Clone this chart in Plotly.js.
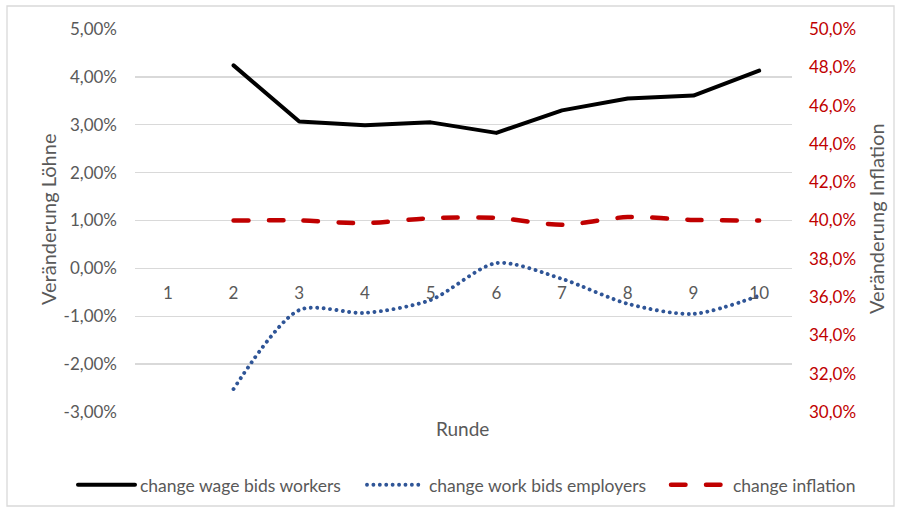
<!DOCTYPE html>
<html>
<head>
<meta charset="utf-8">
<script src="https://cdn.plot.ly/plotly-3.0.1.min.js"></script>
<style>
html,body{margin:0;padding:0;background:#fff;}
#chart{width:900px;height:512px;}
#chart .scatterlayer .js-line, #chart .legendlines path {stroke-linecap: round; stroke-linejoin: round;}
</style>
</head>
<body>
<div id="chart"></div>
<script>
const rounds = ['1','2','3','4','5','6','7','8','9','10'];
const wageBidsWorkers = [null, 4.24, 3.07, 2.99, 3.05, 2.83, 3.30, 3.55, 3.61, 4.13];
const workBidsEmployers = [null, -2.52, -0.87, -0.93, -0.66, 0.11, -0.22, -0.74, -0.95, -0.57];
const inflation = [null, 40.0, 40.0, 39.86, 40.12, 40.14, 39.78, 40.18, 40.03, 40.0];
const leftTicks = [-3, -2, -1, 0, 1, 2, 3, 4, 5];
const leftTickText = ['-3,00%', '-2,00%', '-1,00%', '0,00%', '1,00%', '2,00%', '3,00%', '4,00%', '5,00%'];
const rightTicks = [30, 32, 34, 36, 38, 40, 42, 44, 46, 48, 50];
const rightTickText = ['30,0%', '32,0%', '34,0%', '36,0%', '38,0%', '40,0%', '42,0%', '44,0%', '46,0%', '48,0%', '50,0%'];

const FONT = 'Lato, "Open Sans", sans-serif';
const GRAY = '#595959';
const RED = '#C00000';

const traces = [
  {x: rounds, y: wageBidsWorkers, name: 'change wage bids workers', type: 'scatter', mode: 'lines',
   line: {color: '#000000', width: 4}, yaxis: 'y', legend: 'legend'},
  {x: rounds, y: workBidsEmployers, name: 'change work bids employers', type: 'scatter', mode: 'lines',
   line: {color: '#2F5597', width: 3.9, dash: '0.01px,6.4px', shape: 'spline', smoothing: 0.8}, yaxis: 'y', legend: 'legend2'},
  {x: rounds, y: inflation, name: 'change inflation', type: 'scatter', mode: 'lines',
   line: {color: RED, width: 4.5, dash: '14.5px,20.5px', shape: 'spline', smoothing: 0.8}, yaxis: 'y2', legend: 'legend3'}
];

function legendAt(px) {
  return {orientation: 'h', xref: 'container', yref: 'container', x: px / 900, y: 0.053,
          xanchor: 'left', yanchor: 'middle', font: {family: FONT, size: 17.5, color: GRAY},
          itemwidth: 57, bgcolor: 'rgba(0,0,0,0)'};
}

const layout = {
  width: 900, height: 512,
  margin: {l: 135, r: 108, t: 29, b: 100, pad: 0},
  paper_bgcolor: '#ffffff', plot_bgcolor: '#ffffff',
  font: {family: FONT, size: 17, color: GRAY},
  showlegend: true,
  legend: legendAt(73),
  legend2: legendAt(362),
  legend3: legendAt(666),
  xaxis: {type: 'category', anchor: 'free', position: 0.375, showgrid: false, zeroline: false,
          showline: false, ticks: '', ticklabelstandoff: 13, tickfont: {family: FONT, size: 17, color: GRAY},
          range: [-0.5, 9.5], fixedrange: true},
  yaxis: {range: [-3, 5], tickvals: leftTicks, ticktext: leftTickText,
          showgrid: true, gridcolor: '#D9D9D9', gridwidth: 1.3, zeroline: false, showline: false,
          ticks: '', ticklabelstandoff: 17, tickfont: {family: FONT, size: 17, color: GRAY}},
  yaxis2: {range: [30, 50], tickvals: rightTicks, ticktext: rightTickText,
           overlaying: 'y', side: 'right', showgrid: false, zeroline: false, showline: false,
           ticks: '', ticklabelstandoff: 16, tickfont: {family: FONT, size: 17, color: RED}},
  annotations: [
    {text: 'Veränderung Löhne', xref: 'paper', yref: 'paper', x: (48 - 135) / 657, y: (412 - 220) / 383,
     showarrow: false, textangle: -90, font: {family: FONT, size: 20, color: GRAY}, xanchor: 'center', yanchor: 'middle'},
    {text: 'Veränderung Inflation', xref: 'paper', yref: 'paper', x: (876 - 135) / 657, y: (412 - 219) / 383,
     showarrow: false, textangle: -90, font: {family: FONT, size: 20, color: GRAY}, xanchor: 'center', yanchor: 'middle'},
    {text: 'Runde', xref: 'paper', yref: 'paper', x: (462 - 135) / 657, y: (412 - 429) / 383,
     showarrow: false, font: {family: FONT, size: 19, color: GRAY}, xanchor: 'center', yanchor: 'middle'}
  ],
  shapes: [
    {type: 'rect', xref: 'paper', yref: 'paper', x0: (7 - 135) / 657, x1: (894 - 135) / 657,
     y0: (412 - 506) / 383, y1: (412 - 6) / 383, line: {color: '#D9D9D9', width: 1.3}, layer: 'below'}
  ]
};

Plotly.newPlot('chart', traces, layout, {displayModeBar: false, staticPlot: true});
</script>
</body>
</html>
